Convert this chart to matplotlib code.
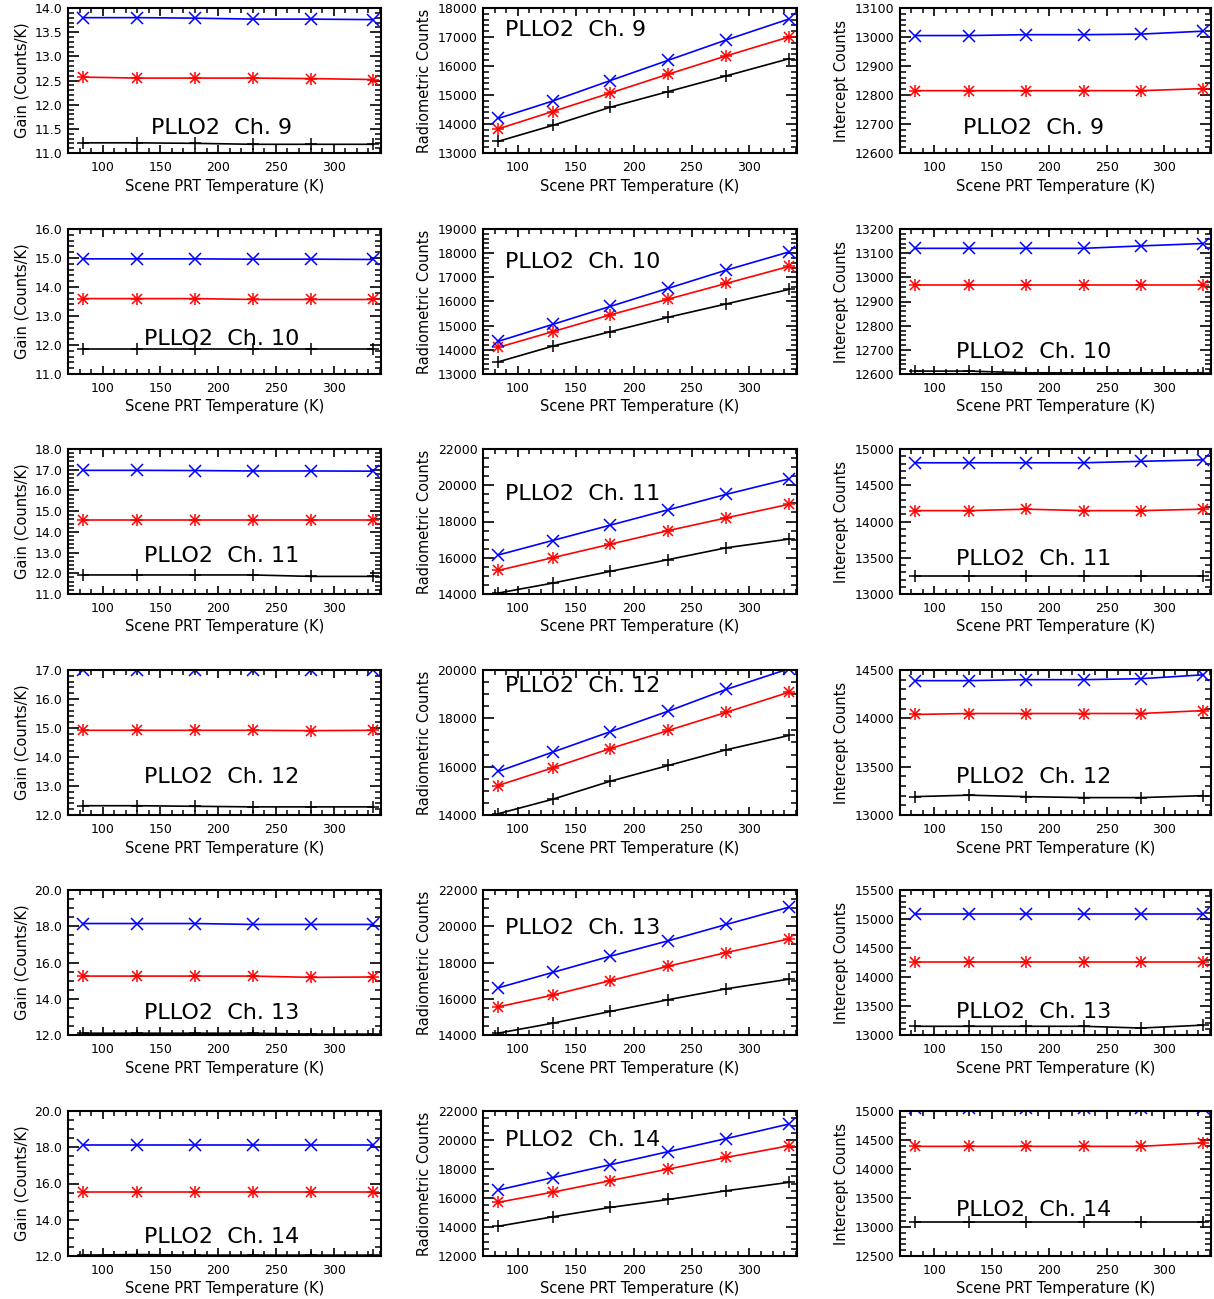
import matplotlib
matplotlib.use("Agg")
import matplotlib.pyplot as plt
from matplotlib.ticker import MultipleLocator, AutoMinorLocator, FormatStrFormatter

# Scene PRT temperatures (K) and channel numbers
temperature = [83, 130, 180, 230, 280, 334]
channels = [9, 10, 11, 12, 13, 14]

# Gain (Counts/K) per channel: blue, red, black series
gain_blue = [
    [13.80, 13.80, 13.79, 13.77, 13.77, 13.76],
    [14.97, 14.97, 14.97, 14.96, 14.96, 14.95],
    [16.97, 16.97, 16.96, 16.94, 16.94, 16.93],
    [16.99, 16.99, 16.99, 16.99, 16.99, 16.99],
    [18.15, 18.15, 18.15, 18.10, 18.10, 18.10],
    [18.10, 18.10, 18.10, 18.10, 18.10, 18.10],
]
gain_red = [
    [12.57, 12.55, 12.55, 12.55, 12.54, 12.52],
    [13.60, 13.60, 13.60, 13.57, 13.57, 13.57],
    [14.55, 14.55, 14.55, 14.55, 14.55, 14.55],
    [14.92, 14.92, 14.92, 14.92, 14.91, 14.92],
    [15.25, 15.25, 15.25, 15.25, 15.18, 15.20],
    [15.55, 15.55, 15.55, 15.55, 15.55, 15.55],
]
gain_black = [
    [11.21, 11.21, 11.20, 11.18, 11.18, 11.18],
    [11.85, 11.85, 11.85, 11.85, 11.85, 11.85],
    [11.92, 11.92, 11.92, 11.92, 11.85, 11.85],
    [12.32, 12.32, 12.30, 12.28, 12.28, 12.28],
    [12.10, 12.10, 12.10, 12.10, 12.05, 12.05],
    [12.05, 12.08, 12.05, 12.05, 12.05, 12.05],
]

# Radiometric counts per channel
rad_blue = [
    [14190, 14790, 15500, 16200, 16900, 17620],
    [14350, 15050, 15800, 16550, 17300, 18050],
    [16150, 16950, 17800, 18650, 19500, 20350],
    [15800, 16600, 17450, 18300, 19200, 20050],
    [16600, 17450, 18350, 19200, 20100, 21050],
    [16550, 17400, 18300, 19200, 20100, 21100],
]
rad_red = [
    [13830, 14430, 15070, 15720, 16350, 17000],
    [14100, 14750, 15450, 16100, 16750, 17450],
    [15300, 16000, 16750, 17500, 18200, 18950],
    [15220, 15950, 16750, 17500, 18250, 19080],
    [15550, 16200, 17000, 17800, 18550, 19300],
    [15700, 16400, 17200, 18000, 18800, 19600],
]
rad_black = [
    [13400, 13950, 14580, 15120, 15660, 16250],
    [13500, 14150, 14750, 15350, 15900, 16500],
    [14050, 14600, 15250, 15900, 16550, 17030],
    [14050, 14650, 15400, 16050, 16700, 17290],
    [14100, 14650, 15300, 15950, 16550, 17080],
    [14050, 14700, 15350, 15900, 16500, 17080],
]

# Intercept counts per channel (None where the series lies outside the plotted range)
icpt_blue = [
    [13005, 13005, 13008, 13008, 13010, 13020],
    [13120, 13120, 13120, 13120, 13130, 13140],
    [14810, 14810, 14810, 14810, 14830, 14850],
    [14390, 14390, 14400, 14400, 14410, 14450],
    [15080, 15080, 15080, 15080, 15080, 15080],
    [15050, 15050, 15050, 15050, 15050, 15050],
]
icpt_red = [
    [12815, 12815, 12815, 12815, 12815, 12822],
    [12970, 12970, 12970, 12970, 12970, 12970],
    [14150, 14150, 14170, 14150, 14150, 14170],
    [14040, 14050, 14050, 14050, 14050, 14080],
    [14260, 14260, 14260, 14260, 14260, 14260],
    [14390, 14390, 14390, 14390, 14390, 14450],
]
icpt_black = [
    None,
    [12612, 12612, 12605, 12605, 12605, 12605],
    [13250, 13250, 13250, 13250, 13250, 13250],
    [13190, 13205, 13190, 13180, 13180, 13200],
    [13150, 13150, 13150, 13150, 13120, 13170],
    [13090, 13090, 13090, 13090, 13090, 13090],
]

# Axis ranges and major tick steps per row
gain_ylim = [(11.0, 14.0), (11.0, 16.0), (11.0, 18.0), (12.0, 17.0), (12.0, 20.0), (12.0, 20.0)]
gain_step = [0.5, 1.0, 1.0, 1.0, 2.0, 2.0]
rad_ylim = [(13000, 18000), (13000, 19000), (14000, 22000), (14000, 20000), (14000, 22000), (12000, 22000)]
rad_step = [1000, 1000, 2000, 2000, 2000, 2000]
icpt_ylim = [(12600, 13100), (12600, 13200), (13000, 15000), (13000, 14500), (13000, 15500), (12500, 15000)]
icpt_step = [100, 100, 500, 500, 500, 500]

x_range = (70, 341)
x_label = "Scene PRT Temperature (K)"
y_labels = ["Gain (Counts/K)", "Radiometric Counts", "Intercept Counts"]

# Label placement inside each panel (axes fraction)
title_x = [0.49, 0.07, 0.43]
title_ha = ["center", "left", "center"]
title_y = [
    [0.17, 0.24, 0.26, 0.26, 0.15, 0.13],
    [0.85, 0.77, 0.69, 0.89, 0.74, 0.80],
    [0.17, 0.15, 0.24, 0.26, 0.16, 0.32],
]

plt.rcParams["font.family"] = ["DejaVu Sans"]

W, H = 1214, 1299
fig = plt.figure(figsize=(W / 100, H / 100), dpi=100)

col_left = [68, 483, 900]
col_width = [313, 314, 311]
row_top = [8, 229, 449, 670, 890, 1111]
ax_h = 145

columns = [
    (gain_blue, gain_red, gain_black, gain_ylim, gain_step, "%.1f"),
    (rad_blue, rad_red, rad_black, rad_ylim, rad_step, "%d"),
    (icpt_blue, icpt_red, icpt_black, icpt_ylim, icpt_step, "%d"),
]

line_kw = dict(lw=1.2, clip_on=True)
mk = dict(ms=8.5, mew=1.1)

for r in range(6):
    for c in range(3):
        blue, red, black, ylims, steps, fmt = columns[c]
        rect = [col_left[c] / W, 1 - (row_top[r] + ax_h) / H, col_width[c] / W, ax_h / H]
        ax = fig.add_axes(rect)

        if black[r] is not None:
            ax.plot(temperature, black[r], color="black", marker="+", **mk, **line_kw)
        ax.plot(temperature, red[r], color="#ff0000", marker="+", **mk, **line_kw)
        ax.plot(temperature, red[r], color="#ff0000", marker="x", ms=7, mew=1.1, ls="none")
        ax.plot(temperature, blue[r], color="#0000ff", marker="x", **mk, **line_kw)

        ax.set_xlim(*x_range)
        ax.set_ylim(*ylims[r])
        ax.xaxis.set_major_locator(MultipleLocator(50))
        ax.xaxis.set_minor_locator(MultipleLocator(10))
        ax.yaxis.set_major_locator(MultipleLocator(steps[r]))
        ax.yaxis.set_minor_locator(AutoMinorLocator())
        ax.yaxis.set_major_formatter(FormatStrFormatter(fmt))

        ax.tick_params(which="both", direction="in", top=True, right=True, width=1.2, colors="black")
        ax.tick_params(axis="x", which="major", length=6, pad=6, labelsize=9)
        ax.tick_params(axis="x", which="minor", length=3.5, width=1.1)
        ax.tick_params(axis="y", which="major", length=8, pad=4, labelsize=9)
        ax.tick_params(axis="y", which="minor", length=4, width=1.1)
        for sp in ax.spines.values():
            sp.set_linewidth(1.5)

        ax.set_xlabel(x_label, fontsize=10.5, labelpad=3)
        ax.set_ylabel(y_labels[c], fontsize=10.5, labelpad=4)

        ax.text(title_x[c], title_y[c][r], "PLLO2  Ch. %d" % channels[r],
                transform=ax.transAxes, ha=title_ha[c], va="center", fontsize=16)

fig.savefig("out.png", dpi=100)
